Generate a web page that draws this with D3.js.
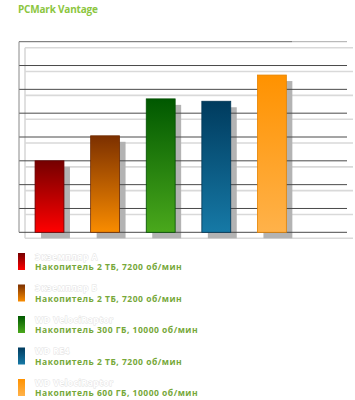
<!DOCTYPE html>
<html>
<head>
<meta charset="utf-8">
<script src="https://cdn.jsdelivr.net/npm/d3@7"></script>
<style>
  body { margin: 0; background: #fff; }
  text { font-family: "Open Sans", sans-serif; }
</style>
</head>
<body>
<div id="chart"></div>
<script>
// Chart data
var title = "PCMark Vantage";
var names = ["Экземпляр А", "Экземпляр Б", "WD VelociRaptor", "WD RE4", "WD VelociRaptor"];
var descriptions = [
  "Накопитель 2 ТБ, 7200 об/мин",
  "Накопитель 2 ТБ, 7200 об/мин",
  "Накопитель 300 ГБ, 10000 об/мин",
  "Накопитель 2 ТБ, 7200 об/мин",
  "Накопитель 600 ГБ, 10000 об/мин"
];
var values = [3.0, 4.05, 5.6, 5.5, 6.6];
var yTicks = [0, 1, 2, 3, 4, 5, 6, 7, 8];
var topColors = ["#750000", "#7c3000", "#005800", "#003b5e", "#ff9200"];
var bottomColors = ["#ff0000", "#f98c00", "#4aa81c", "#1679a6", "#ffb24a"];

var W = 355, H = 400;
var depth = 6;

var svg = d3.select("#chart").append("svg")
    .attr("width", W).attr("height", H);

// Gradients
var defs = svg.append("defs");
names.forEach(function(n, i) {
  var g = defs.append("linearGradient").attr("id", "grad" + i)
      .attr("x1", 0).attr("y1", 0).attr("x2", 0).attr("y2", 1);
  g.append("stop").attr("offset", "0%").attr("stop-color", topColors[i]);
  g.append("stop").attr("offset", "100%").attr("stop-color", bottomColors[i]);
});

// Scales
var keys = names.map(function(d, i) { return i; });
var x = d3.scaleBand().domain(keys).range([21.7, 299.7])
    .paddingInner(0.48).paddingOuter(0.24);
var y = d3.scaleLinear().domain([0, 8]).range([232.3, 41.7]);
var left = 19, right = 347;

// Title
svg.append("text").attr("x", 18).attr("y", 12.5)
    .text(title)
    .style("font-size", "10px").style("font-weight", "bold")
    .style("fill", "#8cc63f").style("letter-spacing", "-0.2px");

// Back wall lines
svg.append("g").selectAll("line").data(yTicks).enter().append("line")
    .attr("x1", left + depth).attr("x2", right + depth)
    .attr("y1", function(d) { return y(d) + depth; })
    .attr("y2", function(d) { return y(d) + depth; })
    .style("stroke", "#d9d9d9").style("stroke-width", 1.6);
svg.append("line")
    .attr("x1", left + depth).attr("x2", left + depth)
    .attr("y1", y(8) + depth).attr("y2", y(0) + depth)
    .style("stroke", "#d9d9d9").style("stroke-width", 1.6);

// Shadows
svg.append("g").selectAll("rect").data(values).enter().append("rect")
    .attr("x", function(d, i) { return x(i) + depth; })
    .attr("y", function(d) { return y(d) + depth; })
    .attr("width", x.bandwidth())
    .attr("height", function(d) { return y(0) - y(d); })
    .style("fill", "#b3b3b3");

// Front gridlines
svg.append("g").selectAll("line").data(yTicks.slice(0, -1)).enter().append("line")
    .attr("x1", left).attr("x2", right)
    .attr("y1", function(d) { return y(d); })
    .attr("y2", function(d) { return y(d); })
    .style("stroke", "#4a4a4a").style("stroke-width", 1);
svg.append("line")
    .attr("x1", left).attr("x2", 292).attr("y1", y(8)).attr("y2", y(8))
    .style("stroke", "#666").style("stroke-width", 1);
svg.append("line")
    .attr("x1", 292).attr("x2", right).attr("y1", y(8)).attr("y2", y(8))
    .style("stroke", "#aaa").style("stroke-width", 1);
svg.append("line")
    .attr("x1", left).attr("x2", left).attr("y1", y(8)).attr("y2", y(0))
    .style("stroke", "#888").style("stroke-width", 1);

// Bars
svg.append("g").selectAll("rect").data(values).enter().append("rect")
    .attr("x", function(d, i) { return x(i); })
    .attr("y", function(d) { return y(d); })
    .attr("width", x.bandwidth())
    .attr("height", function(d) { return y(0) - y(d); })
    .style("fill", function(d, i) { return "url(#grad" + i + ")"; })
    .style("stroke", function(d, i) { return d3.color(topColors[i]).darker(0.3); })
    .style("stroke-width", 0.8);

// Legend
var legend = svg.append("g").selectAll("g").data(names).enter().append("g")
    .attr("transform", function(d, i) { return "translate(18," + (253 + i * 31.5) + ")"; });
legend.append("rect")
    .attr("width", 7).attr("height", 17)
    .style("fill", function(d, i) { return "url(#grad" + i + ")"; });
legend.append("text").attr("x", 17).attr("y", 6.5)
    .text(function(d) { return d; })
    .style("font-size", "8.5px").style("font-weight", "bold")
    .style("letter-spacing", "0.5px")
    .style("fill", "#fff").style("stroke", "#e2e2e2").style("stroke-width", 0.9)
    .style("paint-order", "stroke");
legend.append("text").attr("x", 17).attr("y", 17)
    .text(function(d, i) { return descriptions[i]; })
    .style("font-size", "8.5px").style("font-weight", "bold")
    .style("fill", "#76a83a").style("letter-spacing", "0.5px");
</script>
</body>
</html>
